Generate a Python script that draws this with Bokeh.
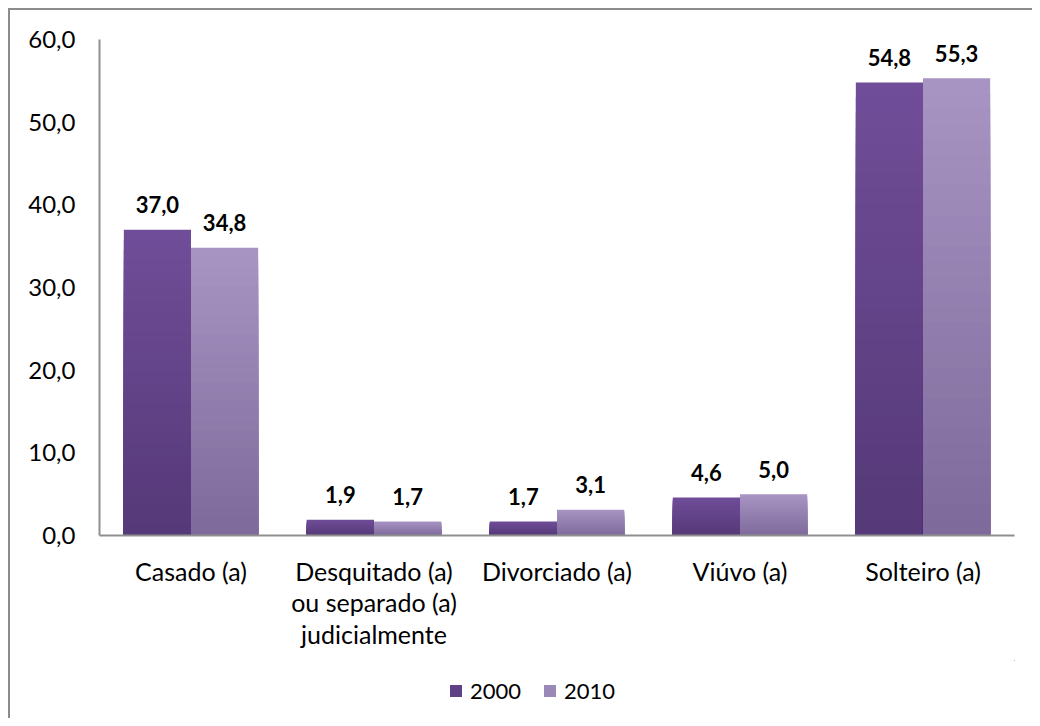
from bokeh.plotting import figure
from bokeh.layouts import column
from bokeh.models import (ColumnDataSource, Range1d, FixedTicker, CustomJSTickFormatter,
                          Legend, LegendItem)
from bokeh.transform import dodge
from bokeh.core.properties import value
from bokeh.embed import file_html
from bokeh.resources import INLINE

categories = ["Casado (a)", "Desquitado (a)\nou separado (a)\njudicialmente",
              "Divorciado (a)", "Viúvo (a)", "Solteiro (a)"]
years = ["2000", "2010"]
values_2000 = [37.0, 1.9, 1.7, 4.6, 54.8]
values_2010 = [34.8, 1.7, 3.1, 5.0, 55.3]
y_ticks = [0, 10, 20, 30, 40, 50, 60]

FONT = "Lato"
BAR_W = 0.367
series = [
    (values_2000, -BAR_W / 2, (0x70, 0x4D, 0x98), (0x55, 0x39, 0x78), "#5f4285"),
    (values_2010, BAR_W / 2, (0xA8, 0x94, 0xC3), (0x7F, 0x6B, 0x9B), "#9a88b6"),
]

p = figure(x_range=categories, y_range=Range1d(0, 60), width=1022, height=650,
           output_backend="svg", toolbar_location=None,
           min_border_left=89, min_border_right=18, min_border_top=29, min_border_bottom=125)
p.background_fill_color = "white"
p.border_fill_color = "white"
p.outline_line_color = None
p.xgrid.visible = False
p.ygrid.visible = False

K = 30
for (vals, off, top_c, bot_c, _), yr in zip(series, years):
    for k in range(K):
        t = k / (K - 1)
        col = "#%02x%02x%02x" % tuple(int(round(a + (b - a) * t)) for a, b in zip(top_c, bot_c))
        frac = 1 - k / K
        src = ColumnDataSource(dict(cat=categories, top=[v * frac for v in vals]))
        p.vbar(x=dodge("cat", off, range=p.x_range), top="top", bottom=0, width=BAR_W,
               source=src, fill_color=col, line_color=None)
    lsrc = ColumnDataSource(dict(cat=categories, val=vals,
                                 lab=[f"{v:.1f}".replace(".", ",") for v in vals]))
    p.text(x=dodge("cat", off, range=p.x_range), y="val", text="lab", source=lsrc,
           text_font=value(FONT), text_font_style="bold", text_font_size="22px",
           text_align="center", text_baseline="alphabetic", y_offset=-25, text_color="black")

# axes
p.yaxis.ticker = FixedTicker(ticks=y_ticks)
p.yaxis.formatter = CustomJSTickFormatter(code="return tick.toFixed(1).replace('.', ',');")
for ax in (p.xaxis[0], p.yaxis[0]):
    ax.axis_line_color = "#8f8f8f"
    ax.axis_line_width = 2
    ax.major_tick_line_color = None
    ax.minor_tick_line_color = None
    ax.major_tick_out = 0
    ax.major_tick_in = 0
    ax.major_label_text_font = FONT
    ax.major_label_text_color = "black"
p.yaxis.major_label_text_font_size = "24px"
p.xaxis.major_label_text_font_size = "25px"
p.yaxis.major_label_standoff = 24
p.xaxis.major_label_standoff = 20
p.xaxis.major_label_text_line_height = 1.05

# legend strip (proxy renderers hidden; legend glyphs only)
pl = figure(width=1022, height=58, output_backend="svg", toolbar_location=None,
            x_range=Range1d(-100, -99), y_range=Range1d(-100, -99),
            x_axis_location=None, y_axis_location=None, min_border=0)
pl.outline_line_color = None
pl.xgrid.visible = False
pl.ygrid.visible = False
pl.background_fill_color = "white"
pl.border_fill_color = "white"
items = []
for (vals, off, top_c, bot_c, lc), yr in zip(series, years):
    r = pl.vbar(x=list(range(len(vals))), top=vals, width=BAR_W, fill_color=lc, line_color=None)
    items.append(LegendItem(label=yr, renderers=[r]))
legend = Legend(items=items, orientation="horizontal", location=(349, 14),
                label_text_font=FONT, label_text_font_size="22px", label_text_color="black",
                glyph_width=15, glyph_height=15, label_standoff=7, spacing=21,
                padding=0, margin=0, border_line_color=None, background_fill_alpha=0,
                label_height=20)
pl.add_layout(legend, "center")

layout = column(p, pl, spacing=0)
layout.styles = {"position": "relative", "left": "8px", "top": "8px",
                 "border-left": "2px solid #8c8c8c", "border-top": "2px solid #8c8c8c"}

open("out.html", "w").write(file_html(layout, INLINE))
